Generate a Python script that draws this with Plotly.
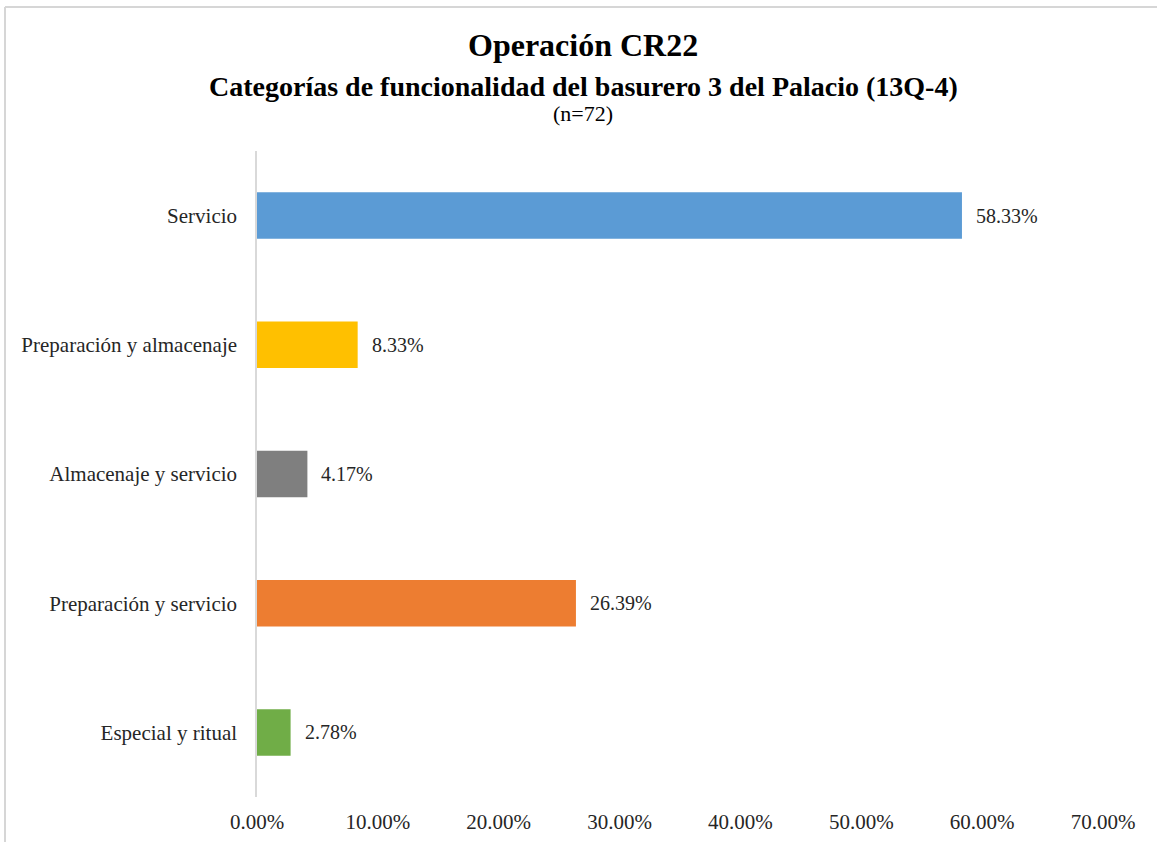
import plotly.graph_objects as go

categories = ["Servicio", "Preparación y almacenaje", "Almacenaje y servicio",
              "Preparación y servicio", "Especial y ritual"]
shares = [0.5833, 0.0833, 0.0417, 0.2639, 0.0278]
bar_colors = ["#5B9BD5", "#FFC000", "#7F7F7F", "#ED7D31", "#70AD47"]
x_ticks = [0, 0.1, 0.2, 0.3, 0.4, 0.5, 0.6, 0.7]

FONT = "Liberation Serif, Times New Roman, serif"

W, H = 1157, 842
ML, MR, MT, MB = 257, 54, 151, 45
PW, PH = W - ML - MR, H - MT - MB


def px_x(px):
    return (px - ML) / PW


def px_y(py):
    return (H - MB - py) / PH


fig = go.Figure(go.Bar(
    y=categories,
    x=shares,
    orientation="h",
    marker=dict(color=bar_colors, line=dict(width=0)),
    width=0.36,
    hoverinfo="skip",
))

# value labels beside each bar
for cat, v in zip(categories, shares):
    fig.add_annotation(x=v, y=cat, text=f"{v:.2%}", showarrow=False,
                       xanchor="left", xshift=12,
                       font=dict(family=FONT, size=20, color="#262626"))

# heading block
heading = [
    ("<b>Operación CR22</b>", 32, 45),
    ("<b>Categorías de funcionalidad del basurero 3 del Palacio (13Q-4)</b>", 28, 87),
    ("(n=72)", 22, 113),
]
for txt, size, ypix in heading:
    fig.add_annotation(xref="paper", yref="paper", x=px_x(583), y=px_y(ypix),
                       text=txt, showarrow=False, xanchor="center", yanchor="middle",
                       font=dict(family=FONT, size=size, color="black"))

# outer frame (top and left edges)
fig.add_shape(type="line", xref="paper", yref="paper",
              x0=px_x(5), x1=px_x(1160), y0=px_y(7), y1=px_y(7),
              line=dict(color="#d6d6d6", width=2))
fig.add_shape(type="line", xref="paper", yref="paper",
              x0=px_x(5), x1=px_x(5), y0=px_y(7), y1=px_y(845),
              line=dict(color="#d6d6d6", width=2))

fig.update_layout(
    width=W, height=H,
    margin=dict(l=ML, r=MR, t=MT, b=MB, autoexpand=False),
    paper_bgcolor="white", plot_bgcolor="white",
    font=dict(family=FONT, color="#262626", size=21),
    showlegend=False,
    xaxis=dict(
        range=[0, 0.7], tickvals=x_ticks, tickformat=".2%",
        showgrid=False, zeroline=False, showline=False, automargin=False,
        ticks="", ticklabelstandoff=10,
        tickfont=dict(size=21, color="#262626"),
    ),
    yaxis=dict(
        categoryorder="array", categoryarray=categories,
        range=[len(categories) - 0.5, -0.5],
        showgrid=False, zeroline=False, automargin=False,
        showline=True, linecolor="#d9d9d9", linewidth=1.5,
        ticks="", ticklabelstandoff=14,
        tickfont=dict(size=21, color="#262626"),
    ),
)

fig.write_html("out.html")
